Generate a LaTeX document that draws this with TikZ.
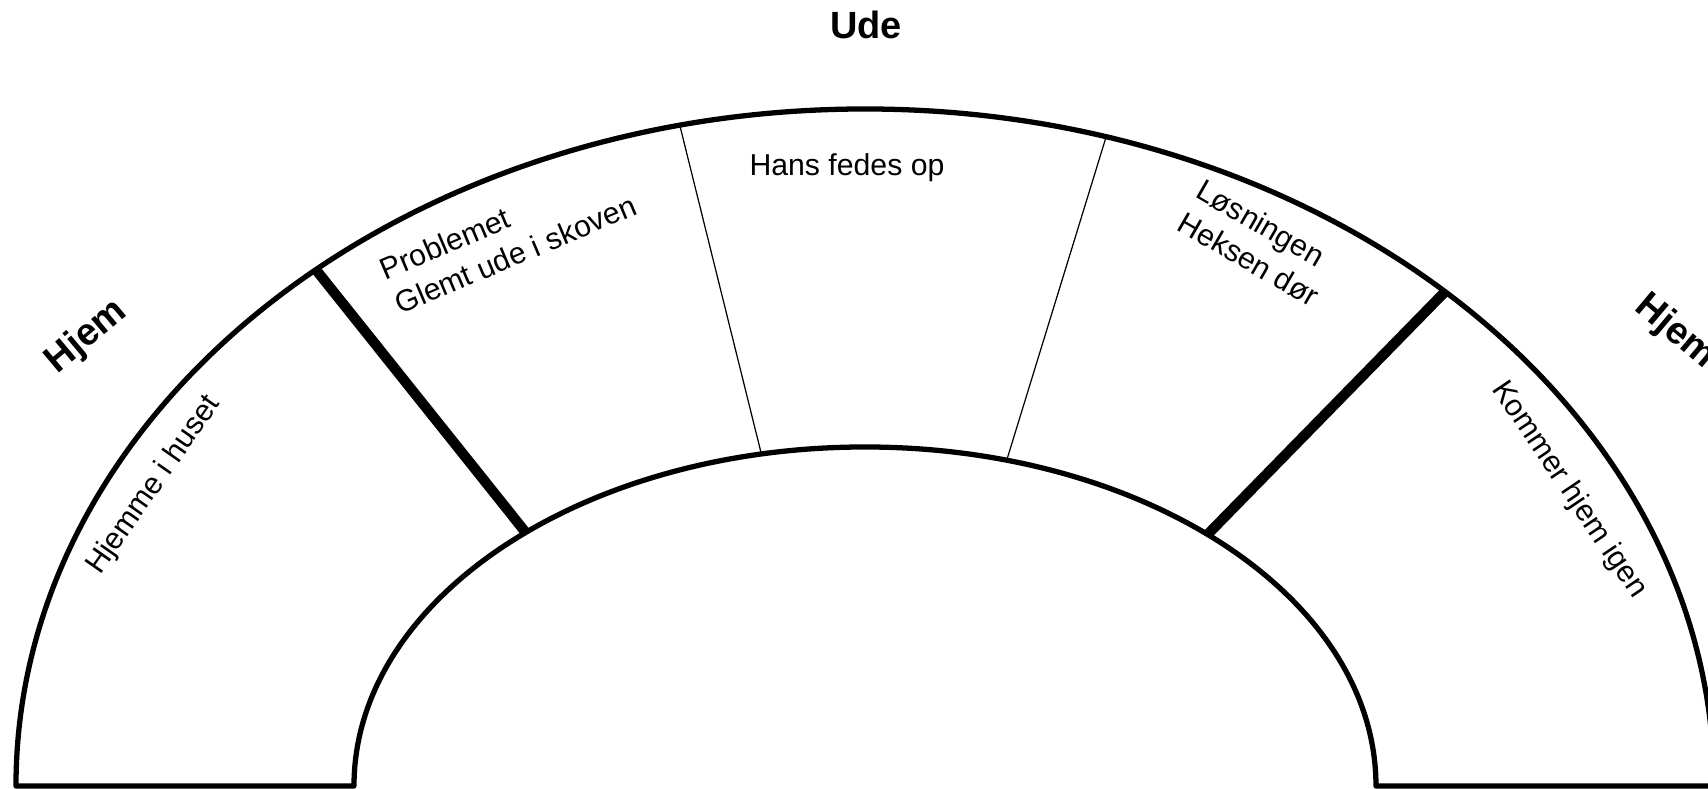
\documentclass[tikz,border=0pt]{standalone}
\usepackage{fontspec}
\setmainfont{Liberation Sans}
\usepackage{tikz}
\usetikzlibrary{calc,positioning}
\tikzstyle{band}    =[line width=1.5pt, line join=round]
\tikzstyle{bigcut}  =[line width=2.9pt]
\tikzstyle{smallcut}=[line width=0.35pt]
\tikzstyle{phase}   =[font=\fontsize{8.6}{10.7}\selectfont,
                      inner sep=0pt, align=left]
\tikzstyle{place}   =[font=\bfseries\fontsize{10.8}{13}\selectfont,
                      inner sep=0pt]
\begin{document}
\begin{tikzpicture}[every node/.style={inner sep=0pt}]
    \useasboundingbox (-8.65,-0.03) rectangle (8.43,7.86);
    \clip (-8.65,-0.03) rectangle (8.43,7.86);
    \draw[band] (-8.49,0) arc[start angle=180, end angle=0, x radius=8.49, y radius=6.77]
        -- (5.11,0) arc[start angle=0, end angle=180, x radius=5.11, y radius=3.39] -- cycle;
    \foreach \n/\a/\b/\s in {1/130.3/131.6/bigcut, 2/102.6/101.7/smallcut,
                             3/73.5/73.9/smallcut, 4/46.9/47.9/bigcut}{
        \coordinate (out\n) at (\a:8.49cm and 6.77cm);
        \coordinate (in\n)  at (\b:5.11cm and 3.39cm);
        \draw[\s] (out\n) -- (in\n);
    }
    \node[place] (ude) at (0.01,7.61) {Ude};
    \node[place, rotate=40]  (hjemL) at (-7.78,4.49) {Hjem};
    \node[place, rotate=-40] (hjemR) at (8.10,4.54) {Hjem};
    \node[phase, rotate=55]  (home)     at (-7.11,3.01) {Hjemme i huset};
    \node[phase, rotate=23]  (problem)  at (-3.57,5.49) {Problemet\\Glemt ude i skoven};
    \node[phase]             (fatten)   at (-0.18,6.18) {Hans fedes op};
    \node[phase, rotate=-30] (solution) at (3.93,5.43)  {Løsningen\\Heksen dør};
    \node[phase, rotate=-56] (back)     at (7.04,2.96)  {Kommer hjem igen};
\end{tikzpicture}
\end{document}
